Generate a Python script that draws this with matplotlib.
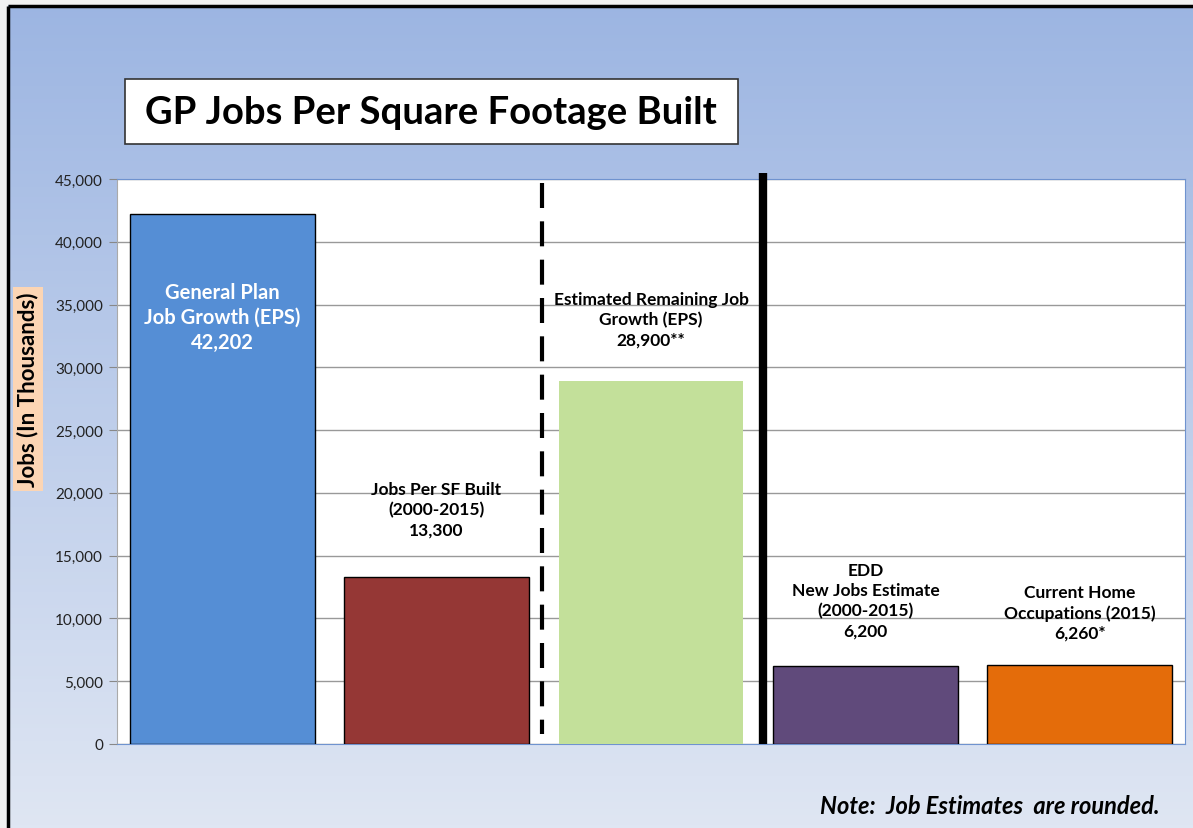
import numpy as np
import matplotlib
matplotlib.use("Agg")
import matplotlib.pyplot as plt
from matplotlib.patches import Rectangle
from matplotlib.ticker import FuncFormatter

plt.rcParams['font.family'] = ['Lato', 'DejaVu Sans']

categories = ["General Plan\nJob Growth (EPS)", "Jobs Per SF Built\n(2000-2015)",
              "Estimated Remaining Job\nGrowth (EPS)", "EDD\nNew Jobs Estimate\n(2000-2015)",
              "Current Home\nOccupations (2015)"]
values = [42202, 13300, 28900, 6200, 6260]
value_labels = ["42,202", "13,300", "28,900**", "6,200", "6,260*"]
label_y = [34000, 18700, 33850, 11470, 10500]
colors = ["#558ed5", "#953735", "#c3e09a", "#604a7b", "#e46c0a"]
edge = ["black", "black", "none", "black", "black"]
yticks = [0, 5000, 10000, 15000, 20000, 25000, 30000, 35000, 40000, 45000]

W, H = 1193, 829
fig = plt.figure(figsize=(W / 100, H / 100), dpi=100)

# background gradient
bg = fig.add_axes([0, 0, 1, 1])
grad = np.linspace(0, 1, 256).reshape(-1, 1)
top = np.array([0x9c, 0xb5, 0xe2]) / 255
bot = np.array([0xdf, 0xe6, 0xf3]) / 255
img = top[None, None, :] * (1 - grad[:, :, None]) + bot[None, None, :] * grad[:, :, None]
bg.imshow(img, aspect='auto', extent=[0, W, H, 0])
bg.set_xlim(0, W)
bg.set_ylim(H, 0)
bg.axis('off')
bg.add_patch(Rectangle((0, 0), W, 5, color="#f2f2f2", zorder=3))
bg.add_patch(Rectangle((0, 0), 7, H, color="#f2f2f2", zorder=3))
bg.plot([8, W], [6.5, 6.5], color="black", lw=2.5, zorder=4, solid_capstyle='butt')
bg.plot([8, 8], [6.5, H], color="black", lw=2.5, zorder=4, solid_capstyle='butt')

# main axes
x0, x1, y0, y1 = 117, 1185, 180, 745
ax = fig.add_axes([x0 / W, 1 - y1 / H, (x1 - x0) / W, (y1 - y0) / H])
ax.set_facecolor("white")
xpos = np.arange(len(values))
ax.bar(xpos, values, width=0.862, color=colors, edgecolor=edge, linewidth=1.0, zorder=3)
ax.set_xlim(-0.49, 4.49)
ax.set_ylim(0, 45000)
ax.set_yticks(yticks)
ax.yaxis.set_major_formatter(FuncFormatter(lambda v, p: f"{int(v):,}"))
ax.tick_params(axis='y', length=6, color="#888888", labelsize=11, labelcolor="#222222", pad=4)
ax.tick_params(axis='x', length=0, labelbottom=False)
ax.grid(axis='y', color="#999999", linewidth=1.0, zorder=1)
for s in ['top', 'right']:
    ax.spines[s].set_color("#6f93cf")
ax.spines['left'].set_color("#aaaaaa")
ax.spines['bottom'].set_color("#6f93cf")

# separators
ax.plot([1.49, 1.49], [44700, 800], color="black", lw=3, linestyle=(0, (6, 3.2)), zorder=4)
ax.plot([2.52, 2.52], [45500, 0], color="black", lw=6, zorder=4, clip_on=False,
        solid_capstyle='butt')

# bar labels
for i, (c, v, ly) in enumerate(zip(categories, value_labels, label_y)):
    col = "white" if i == 0 else "black"
    fs = 14.5 if i == 0 else 12.5
    ax.text(i, ly, c + "\n" + v, ha='center', va='center', color=col,
            fontsize=fs, fontweight='bold', linespacing=1.3, zorder=5)

# title box
bg.add_patch(Rectangle((125, 80), 613, 65, facecolor='white', edgecolor='#333333', lw=1.2, zorder=6))
bg.text(431, 113, "GP Jobs Per Square Footage Built", ha='center', va='center',
        fontsize=27.5, fontweight='bold', zorder=7)

# other box
bg.add_patch(Rectangle((812, 399), 348, 117, facecolor='white', edgecolor='#333333', lw=1.2, zorder=6))
bg.text(826, 458, "Other Job Growth\nIndicators", ha='left', va='center', fontsize=25.5,
        fontweight='bold', linespacing=1.35, zorder=7)

# y label
fig.text(28 / W, 1 - 390 / H, "Jobs (In Thousands)", rotation=90, ha='center', va='center',
         fontsize=16, fontweight='bold',
         bbox=dict(boxstyle='square,pad=0.2', facecolor='#fcd5b4', edgecolor='none'))

# note
fig.text(1160 / W, 1 - 807 / H, "Note:  Job Estimates  are rounded.", ha='right', va='center',
         fontsize=17, fontweight='bold', style='italic')

fig.savefig("out.png", dpi=100)
